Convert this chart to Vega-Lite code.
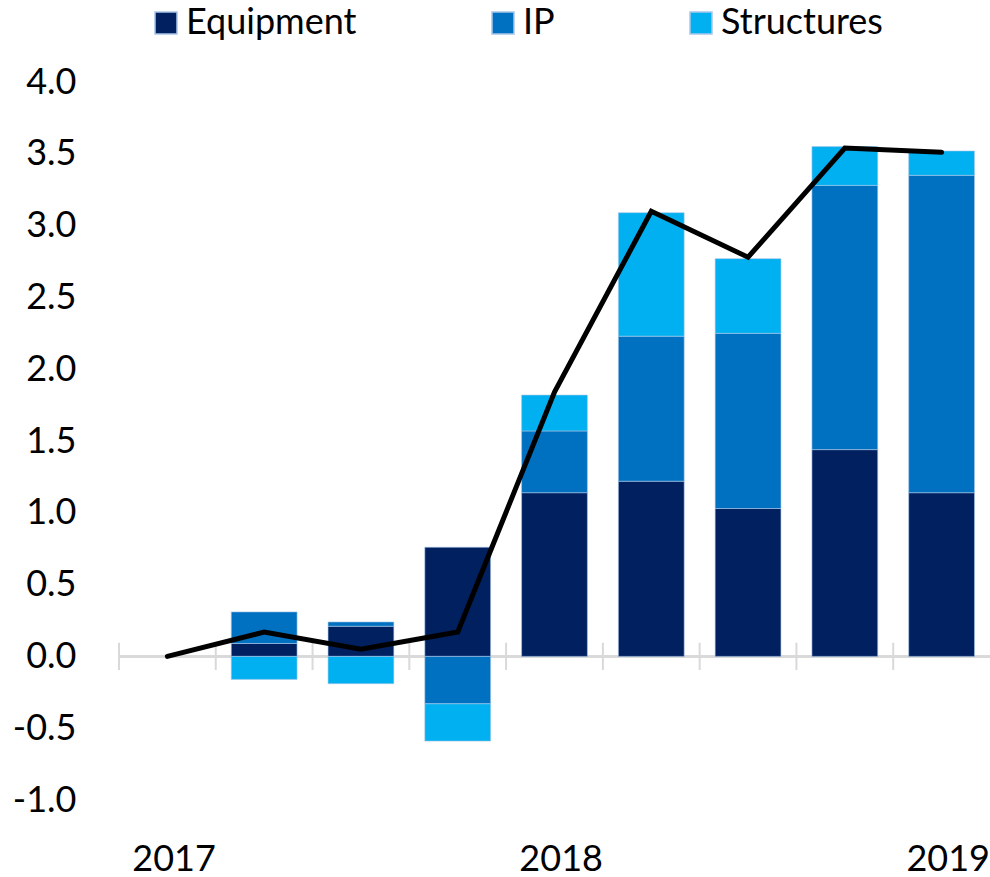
{
  "$schema": "https://vega.github.io/schema/vega-lite/v6.json",
  "autosize": {"type": "none"},
  "width": 871,
  "height": 718,
  "padding": {"left": 119, "top": 82, "right": 0, "bottom": 77},
  "config": {
    "view": {"stroke": null},
    "font": "Lato",
    "axis": {"labelFont": "Lato", "labelColor": "#000000", "grid": false},
    "legend": {"labelFont": "Lato", "labelColor": "#000000"}
  },
  "datasets": {
    "bars": [
      {"q": "2017Q2", "series": "Equipment", "ord": 1, "value": 0.09},
      {"q": "2017Q2", "series": "IP", "ord": 2, "value": 0.22},
      {"q": "2017Q2", "series": "Structures", "ord": 3, "value": -0.16},
      {"q": "2017Q3", "series": "Equipment", "ord": 1, "value": 0.21},
      {"q": "2017Q3", "series": "IP", "ord": 2, "value": 0.03},
      {"q": "2017Q3", "series": "Structures", "ord": 3, "value": -0.19},
      {"q": "2017Q4", "series": "Equipment", "ord": 1, "value": 0.76},
      {"q": "2017Q4", "series": "IP", "ord": 2, "value": -0.33},
      {"q": "2017Q4", "series": "Structures", "ord": 3, "value": -0.26},
      {"q": "2018Q1", "series": "Equipment", "ord": 1, "value": 1.14},
      {"q": "2018Q1", "series": "IP", "ord": 2, "value": 0.43},
      {"q": "2018Q1", "series": "Structures", "ord": 3, "value": 0.25},
      {"q": "2018Q2", "series": "Equipment", "ord": 1, "value": 1.22},
      {"q": "2018Q2", "series": "IP", "ord": 2, "value": 1.01},
      {"q": "2018Q2", "series": "Structures", "ord": 3, "value": 0.86},
      {"q": "2018Q3", "series": "Equipment", "ord": 1, "value": 1.03},
      {"q": "2018Q3", "series": "IP", "ord": 2, "value": 1.22},
      {"q": "2018Q3", "series": "Structures", "ord": 3, "value": 0.52},
      {"q": "2018Q4", "series": "Equipment", "ord": 1, "value": 1.44},
      {"q": "2018Q4", "series": "IP", "ord": 2, "value": 1.84},
      {"q": "2018Q4", "series": "Structures", "ord": 3, "value": 0.27},
      {"q": "2019Q1", "series": "Equipment", "ord": 1, "value": 1.14},
      {"q": "2019Q1", "series": "IP", "ord": 2, "value": 2.21},
      {"q": "2019Q1", "series": "Structures", "ord": 3, "value": 0.17}
    ],
    "total": [
      {"q": "2017Q1", "total": 0.0},
      {"q": "2017Q2", "total": 0.17},
      {"q": "2017Q3", "total": 0.05},
      {"q": "2017Q4", "total": 0.17},
      {"q": "2018Q1", "total": 1.84},
      {"q": "2018Q2", "total": 3.10},
      {"q": "2018Q3", "total": 2.78},
      {"q": "2018Q4", "total": 3.54},
      {"q": "2019Q1", "total": 3.51}
    ]
  },
  "layer": [
    {
      "data": {"name": "total"},
      "mark": {"type": "rule", "color": "#d9d9d9", "strokeWidth": 2},
      "encoding": {"y": {"datum": 0, "type": "quantitative"}}
    },
    {
      "data": {"name": "total"},
      "mark": {"type": "rule", "color": "#d9d9d9", "strokeWidth": 2, "xOffset": -48.4},
      "encoding": {
        "x": {"field": "q", "type": "ordinal"},
        "y": {"datum": -0.095, "type": "quantitative"},
        "y2": {"datum": 0.095}
      }
    },
    {
      "data": {"name": "bars"},
      "mark": {"type": "bar", "width": {"band": 0.68}, "stroke": "#a9c6e8", "strokeWidth": 0.6},
      "encoding": {
        "x": {
          "field": "q",
          "type": "ordinal",
          "scale": {
            "domain": ["2017Q1", "2017Q2", "2017Q3", "2017Q4", "2018Q1", "2018Q2", "2018Q3", "2018Q4", "2019Q1"],
            "paddingInner": 0,
            "paddingOuter": 0
          },
          "axis": {
            "title": null,
            "domain": false,
            "ticks": false,
            "labelAngle": 0,
            "labelFontSize": 36,
            "labelPadding": 59,
            "labelOffset": 48.4,
            "labelExpr": "indexof(datum.value, 'Q1') >= 0 ? slice(datum.value, 0, 4) : ''"
          }
        },
        "y": {
          "field": "value",
          "type": "quantitative",
          "stack": "zero",
          "scale": {"domain": [-1, 4], "nice": false},
          "axis": {
            "title": null,
            "values": [-1, -0.5, 0, 0.5, 1, 1.5, 2, 2.5, 3, 3.5, 4],
            "labelExpr": "(datum.value < 0 ? '-' : '') + format(abs(datum.value), '.1f')",
            "domain": false,
            "ticks": false,
            "labelFontSize": 36,
            "labelPadding": 43
          }
        },
        "color": {
          "field": "series",
          "type": "nominal",
          "scale": {"domain": ["Equipment", "IP", "Structures"], "range": ["#002060", "#0070c0", "#00b0f0"]},
          "legend": {
            "title": null,
            "orient": "none",
            "direction": "horizontal",
            "legendX": 29,
            "legendY": -77,
            "symbolType": "square",
            "symbolSize": 484,
            "labelFontSize": 36,
            "labelOffset": 2,
            "labelLimit": 400,
            "columnPadding": 128
          }
        },
        "order": {"field": "ord", "type": "quantitative"}
      }
    },
    {
      "data": {"name": "total"},
      "mark": {"type": "line", "color": "#000000", "strokeWidth": 5, "strokeCap": "round"},
      "encoding": {
        "x": {"field": "q", "type": "ordinal"},
        "y": {"field": "total", "type": "quantitative"}
      }
    }
  ]
}
